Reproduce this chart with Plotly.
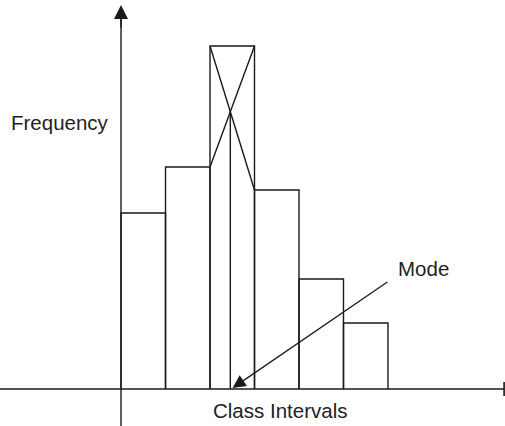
import plotly.graph_objects as go

# Data
class_edges = [0, 1, 2, 3, 4, 5, 6]
frequencies = [17.6, 22.2, 34.3, 19.9, 11.0, 6.6]
x_title = "Class Intervals"
y_title = "Frequency"
mode_label = "Mode"

LINE = "#1a1a1a"
W, H = 505, 426

fig = go.Figure()

# bars as outlined rectangles (through data coordinates)
xs, ys = [], []
for i, f in enumerate(frequencies):
    x0, x1 = class_edges[i], class_edges[i + 1]
    xs += [x0, x0, x1, x1, None]
    ys += [0, f, f, 0, None]
fig.add_trace(go.Scatter(x=xs, y=ys, mode="lines",
                         line=dict(color=LINE, width=1.4), hoverinfo="skip"))

# modal class construction
m = frequencies.index(max(frequencies))
xl, xr = class_edges[m], class_edges[m + 1]
fm, fprev, fnext = frequencies[m], frequencies[m - 1], frequencies[m + 1]
sa = (fnext - fm) / (xr - xl)
sb = (fm - fprev) / (xr - xl)
t = (fprev - fm) / (sa - sb)
xm = xl + t
ym = fm + sa * t
fig.add_trace(go.Scatter(x=[xl, xr, None, xr, xl, None, xm, xm],
                         y=[fm, fnext, None, fm, fprev, None, ym, 0],
                         mode="lines", line=dict(color=LINE, width=1.4),
                         hoverinfo="skip"))

# axes drawn manually
xmin, xmax = -2.72, 8.63
ymin, ymax = -3.7, 38.9
fig.add_trace(go.Scatter(x=[xmin, 8.61], y=[0, 0], mode="lines",
                         line=dict(color=LINE, width=1.4), hoverinfo="skip"))
fig.add_trace(go.Scatter(x=[8.61, 8.61], y=[-0.7, 0.7], mode="lines",
                         line=dict(color=LINE, width=1.6), hoverinfo="skip"))
fig.add_trace(go.Scatter(x=[0, 0], y=[ymin, 37.0], mode="lines",
                         line=dict(color=LINE, width=1.4), hoverinfo="skip"))

FONT = dict(size=20.5, color="#222")
TXT = dict(xref="paper", yref="paper", showarrow=False, font=FONT,
           xanchor="center", yanchor="middle")
annotations = [
    dict(x=0, y=38.4, xref="x", yref="y", ax=0, ay=36.0, axref="x", ayref="y",
         showarrow=True, arrowhead=2, arrowsize=2.0, arrowwidth=1.4,
         arrowcolor=LINE, text=""),
    dict(x=xm + 0.05, y=0.1, xref="x", yref="y", ax=6.02, ay=10.8,
         axref="x", ayref="y", showarrow=True, arrowhead=2, arrowsize=2.0,
         arrowwidth=1.3, arrowcolor=LINE, text=""),
    dict(x=60 / W, y=1 - 122 / H, text=y_title, **TXT),
    dict(x=423 / W, y=1 - 268 / H, text=mode_label, **TXT),
    dict(x=280 / W, y=1 - 410 / H, text=x_title, **TXT),
]

fig.update_layout(
    width=W, height=H, margin=dict(l=0, r=0, t=0, b=0),
    paper_bgcolor="white", plot_bgcolor="white", showlegend=False,
    xaxis=dict(range=[xmin, xmax], visible=False, fixedrange=True),
    yaxis=dict(range=[ymin, ymax], visible=False, fixedrange=True),
    font=dict(family="Liberation Sans, Arial, sans-serif"),
    annotations=annotations,
)

fig.write_html("out.html", config={"displayModeBar": False},
               post_script="document.body.style.margin='0';document.body.style.overflow='hidden';")
